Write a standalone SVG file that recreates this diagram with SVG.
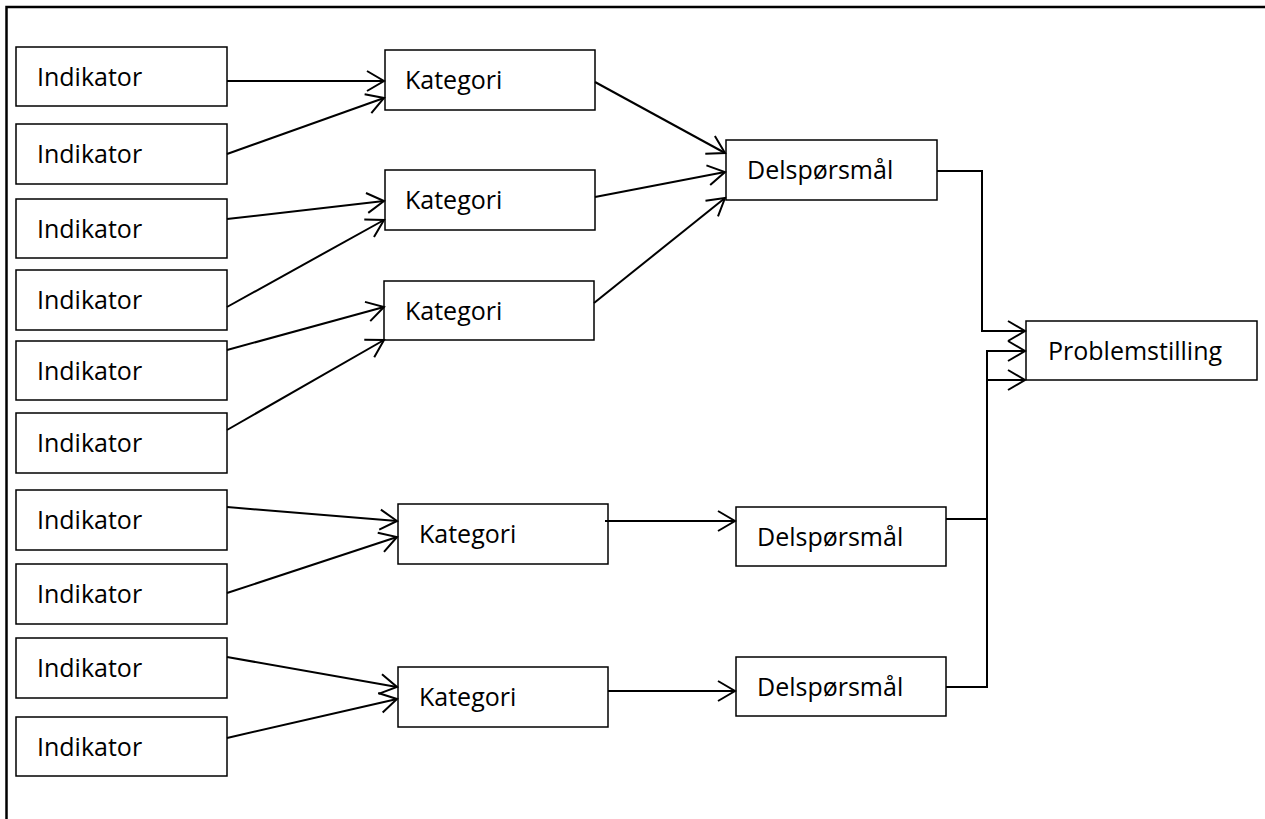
<svg xmlns="http://www.w3.org/2000/svg" width="1265" height="819" viewBox="0 0 1265 819">
<style>
.box{fill:#fff;stroke:#000;stroke-width:1.5}
.lbl{font-family:"Open Sans","Liberation Sans",sans-serif;font-size:25px;fill:#000}
.c{fill:none;stroke:#000;stroke-width:2}
</style>
<defs>
<marker id="ah" markerUnits="userSpaceOnUse" markerWidth="24" markerHeight="24" viewBox="-20 -12 24 24" refX="0" refY="0" orient="auto">
<path d="M-17,-10 L0,0 L-17,10" fill="none" stroke="#000" stroke-width="2"/>
</marker>
</defs>
<rect width="1265" height="819" fill="#fff"/>
<path d="M6.5,819 V7 H1265" fill="none" stroke="#000" stroke-width="2.5"/>
<g id="ind1"><rect class="box" x="16" y="47" width="211" height="59"/><text class="lbl" x="37" y="86">Indikator</text></g>
<g id="ind2"><rect class="box" x="16" y="124" width="211" height="60"/><text class="lbl" x="37" y="163">Indikator</text></g>
<g id="ind3"><rect class="box" x="16" y="199" width="211" height="59"/><text class="lbl" x="37" y="238">Indikator</text></g>
<g id="ind4"><rect class="box" x="16" y="270" width="211" height="60"/><text class="lbl" x="37" y="309">Indikator</text></g>
<g id="ind5"><rect class="box" x="16" y="341" width="211" height="59"/><text class="lbl" x="37" y="380">Indikator</text></g>
<g id="ind6"><rect class="box" x="16" y="413" width="211" height="60"/><text class="lbl" x="37" y="452">Indikator</text></g>
<g id="ind7"><rect class="box" x="16" y="490" width="211" height="60"/><text class="lbl" x="37" y="529">Indikator</text></g>
<g id="ind8"><rect class="box" x="16" y="564" width="211" height="60"/><text class="lbl" x="37" y="603">Indikator</text></g>
<g id="ind9"><rect class="box" x="16" y="638" width="211" height="60"/><text class="lbl" x="37" y="677">Indikator</text></g>
<g id="ind10"><rect class="box" x="16" y="717" width="211" height="59"/><text class="lbl" x="37" y="756">Indikator</text></g>
<g id="kat1"><rect class="box" x="385" y="50" width="210" height="60"/><text class="lbl" x="405" y="89">Kategori</text></g>
<g id="kat2"><rect class="box" x="385" y="170" width="210" height="60"/><text class="lbl" x="405" y="209">Kategori</text></g>
<g id="kat3"><rect class="box" x="384" y="281" width="210" height="59"/><text class="lbl" x="405" y="320">Kategori</text></g>
<g id="kat4"><rect class="box" x="398" y="504" width="210" height="60"/><text class="lbl" x="419" y="543">Kategori</text></g>
<g id="kat5"><rect class="box" x="398" y="667" width="210" height="60"/><text class="lbl" x="419" y="706">Kategori</text></g>
<g id="del1"><rect class="box" x="726" y="140" width="211" height="60"/><text class="lbl" x="747" y="179">Delspørsmål</text></g>
<g id="del2"><rect class="box" x="736" y="507" width="210" height="59"/><text class="lbl" x="757" y="546">Delspørsmål</text></g>
<g id="del3"><rect class="box" x="736" y="657" width="210" height="59"/><text class="lbl" x="757" y="696">Delspørsmål</text></g>
<g id="prob"><rect class="box" x="1026" y="321" width="231" height="59"/><text class="lbl" x="1048" y="360">Problemstilling</text></g>
<g id="connectors">
<line class="c" x1="227" y1="81" x2="384" y2="81" marker-end="url(#ah)"/>
<line class="c" x1="227" y1="154" x2="384" y2="98" marker-end="url(#ah)"/>
<line class="c" x1="227" y1="219" x2="384" y2="201" marker-end="url(#ah)"/>
<line class="c" x1="227" y1="307" x2="384" y2="220" marker-end="url(#ah)"/>
<line class="c" x1="227" y1="350" x2="384" y2="307" marker-end="url(#ah)"/>
<line class="c" x1="227" y1="430" x2="384" y2="340" marker-end="url(#ah)"/>
<line class="c" x1="227" y1="507" x2="397" y2="521" marker-end="url(#ah)"/>
<line class="c" x1="227" y1="593" x2="397" y2="537" marker-end="url(#ah)"/>
<line class="c" x1="227" y1="657" x2="397" y2="687" marker-end="url(#ah)"/>
<line class="c" x1="227" y1="738" x2="397" y2="699" marker-end="url(#ah)"/>
<line class="c" x1="595" y1="82" x2="725" y2="153" marker-end="url(#ah)"/>
<line class="c" x1="595" y1="197" x2="725" y2="172" marker-end="url(#ah)"/>
<line class="c" x1="594" y1="303" x2="725" y2="198" marker-end="url(#ah)"/>
<line class="c" x1="605" y1="521" x2="735" y2="521" marker-end="url(#ah)"/>
<line class="c" x1="608" y1="691" x2="735" y2="691" marker-end="url(#ah)"/>
<path class="c" d="M937,171 H982 V331 H1025" marker-end="url(#ah)"/>
<path class="c" d="M946,519 H987"/>
<path class="c" d="M946,687 H987 V351 H1025" marker-end="url(#ah)"/>
<path class="c" d="M987,380 H1025" marker-end="url(#ah)"/>
</g>
</svg>
